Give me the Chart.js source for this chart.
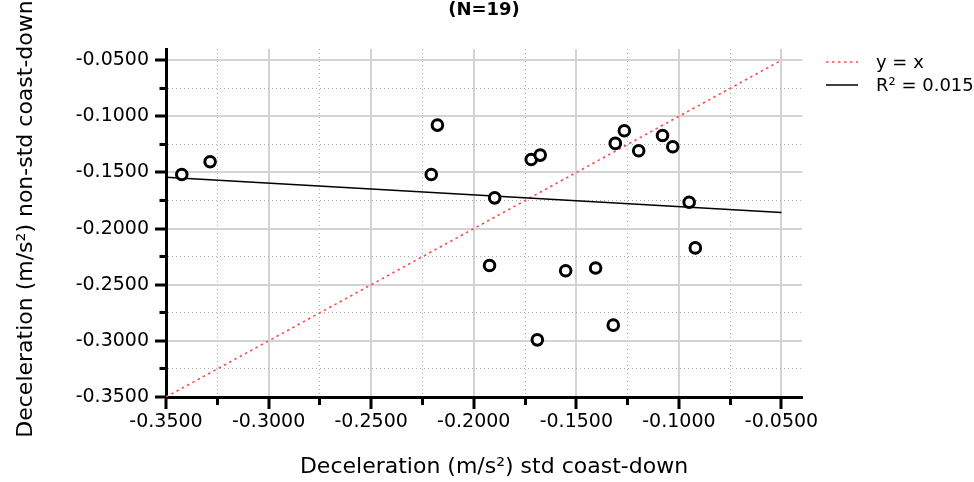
<!DOCTYPE html>
<html>
<head>
<meta charset="utf-8">
<script src="https://cdn.jsdelivr.net/npm/chart.js@4.4.1/dist/chart.umd.min.js"></script>
<style>
  html, body { margin: 0; padding: 0; background: #fff; }
  #wrap { width: 974px; height: 482px; position: relative; }
</style>
</head>
<body>
<div id="wrap"><canvas id="c"></canvas></div>
<script>
// Deceleration measured in the standard coast-down (x) and the non-standard one (y), m/s^2
const stdDecel = [-0.3423, -0.3285, -0.2207, -0.2177, -0.1923, -0.1898, -0.1720, -0.1690, -0.1676, -0.1552,
                  -0.1406, -0.1320, -0.1310, -0.1266, -0.1196, -0.1080, -0.1030, -0.0950, -0.0920];
const nonStdDecel = [-0.1518, -0.1404, -0.1518, -0.1078, -0.2328, -0.1726, -0.1384, -0.2991, -0.1345, -0.2375,
                     -0.2351, -0.2860, -0.1241, -0.1128, -0.1306, -0.1170, -0.1271, -0.1765, -0.2172];

// Reference line y = x and the fitted regression line (end points)
const identityX = [-0.35, -0.05];
const identityY = [-0.35, -0.05];
const fitX = [-0.35, -0.05];
const fitY = [-0.1542, -0.1857];

// Major tick values for both axes (minor ticks sit halfway between them)
const xTickValues = [-0.35, -0.30, -0.25, -0.20, -0.15, -0.10, -0.05];
const yTickValues = [-0.35, -0.30, -0.25, -0.20, -0.15, -0.10, -0.05];

const chartTitle = '(N=19)';
const legendLabels = ['y = x', 'R\u00B2 = 0.015'];
const xTitle = 'Deceleration (m/s\u00B2) std coast-down';
const yTitle = 'Deceleration (m/s\u00B2) non-std coast-down';

const FONT = "'DejaVu Sans', sans-serif";

function majorMinor(values) {
  const out = [];
  values.forEach((v, i) => {
    out.push({ value: v, major: true });
    if (i < values.length - 1) out.push({ value: (v + values[i + 1]) / 2, major: false });
  });
  return out;
}

// minorDash: dash pattern that keeps only the part of a minor tick next to the axis
function axisOptions(tickValues, min, max, tickLen, labelPad, minorDash) {
  const isMajor = c => !!(c.tick && c.tick.major);
  return {
    type: 'linear',
    min: min,
    max: max,
    afterBuildTicks: s => { s.ticks = majorMinor(tickValues); },
    ticks: {
      autoSkip: false,
      maxRotation: 0,
      padding: labelPad,
      color: '#000',
      font: { family: FONT, size: 19 },
      callback: (v, i, ticks) => (ticks[i] && ticks[i].major) ? Number(v).toFixed(4) : ''
    },
    grid: {
      drawTicks: true,
      tickLength: tickLen,
      color: c => isMajor(c) ? '#d3d3d3' : '#ababab',
      lineWidth: c => isMajor(c) ? 2 : 1,
      tickColor: '#000',
      tickWidth: 3,
      tickBorderDash: c => isMajor(c) ? [] : minorDash
    },
    border: {
      display: true,
      color: '#000',
      width: 3,
      dash: c => (c.tick && !c.tick.major) ? [1, 3] : []
    },
    title: { display: false }
  };
}

// Chart title, axis titles and the legend on the right of the plot
const annotate = {
  id: 'annotate',
  afterDraw(chart) {
    const { ctx, chartArea: a } = chart;
    const midX = (a.left + a.right) / 2;
    ctx.save();
    ctx.fillStyle = '#000';
    ctx.font = 'bold 18px ' + FONT;
    ctx.textAlign = 'center';
    ctx.textBaseline = 'alphabetic';
    ctx.fillText(chartTitle, midX, 15);

    ctx.font = '22px ' + FONT;
    ctx.fillText(xTitle, midX + 10, chart.height - 9);
    ctx.save();
    ctx.translate(32, (a.top + a.bottom) / 2 - 4);
    ctx.rotate(-Math.PI / 2);
    ctx.fillText(yTitle, 0, 0);
    ctx.restore();

    const rows = [chart.data.datasets[1], chart.data.datasets[2]];
    rows.forEach((ds, i) => {
      const y = a.top + 13 + i * 23;
      ctx.strokeStyle = ds.borderColor;
      ctx.lineWidth = ds.borderWidth;
      ctx.setLineDash(ds.borderDash || []);
      ctx.beginPath();
      ctx.moveTo(a.right + 24, y);
      ctx.lineTo(a.right + 56, y);
      ctx.stroke();
      ctx.setLineDash([]);
      ctx.font = '18px ' + FONT;
      ctx.textAlign = 'left';
      ctx.textBaseline = 'middle';
      ctx.fillStyle = '#000';
      ctx.fillText(ds.label, a.right + 74, y + 1);
    });
    ctx.restore();
  }
};

// x ticks run from the axis outwards; y ticks run from the outer end towards the axis
const xOpts = axisOptions(xTickValues, -0.35, -0.04, 12, 2, [6, 100]);
xOpts.position = 'bottom';
xOpts.afterFit = s => { s.height = 85; };

const yOpts = axisOptions(yTickValues, -0.35, -0.04, 11, 6, [0, 4.5, 6, 100]);
yOpts.position = 'left';
yOpts.afterFit = s => { s.width = 166; };

new Chart(document.getElementById('c'), {
  type: 'scatter',
  data: {
    datasets: [
      {
        label: 'Vehicles',
        data: stdDecel.map((x, i) => ({ x: x, y: nonStdDecel[i] })),
        pointStyle: 'circle',
        pointRadius: 5.3,
        pointHoverRadius: 5.3,
        pointBorderWidth: 3,
        borderColor: '#000',
        backgroundColor: '#fff',
        order: 0
      },
      {
        label: legendLabels[0],
        data: identityX.map((x, i) => ({ x: x, y: identityY[i] })),
        showLine: true,
        pointRadius: 0,
        borderColor: '#ff4a4a',
        borderWidth: 1.6,
        borderDash: [2.5, 3.5],
        order: 2
      },
      {
        label: legendLabels[1],
        data: fitX.map((x, i) => ({ x: x, y: fitY[i] })),
        showLine: true,
        pointRadius: 0,
        borderColor: '#000',
        borderWidth: 1.5,
        order: 1
      }
    ]
  },
  options: {
    responsive: true,
    maintainAspectRatio: false,
    devicePixelRatio: 1,
    animation: false,
    events: [],
    layout: { padding: { left: 0, right: 172, top: 49, bottom: 0 } },
    plugins: {
      legend: { display: false },
      title: { display: false },
      tooltip: { enabled: false }
    },
    scales: { x: xOpts, y: yOpts }
  },
  plugins: [annotate]
});
</script>
</body>
</html>
